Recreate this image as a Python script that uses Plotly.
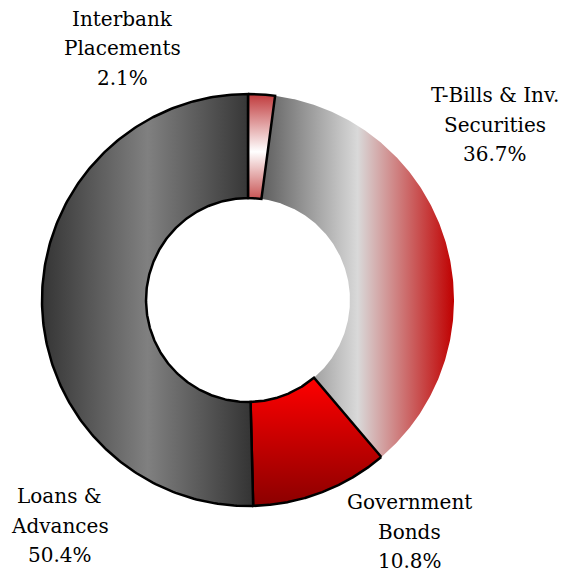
import numpy as np
import plotly.graph_objects as go

# Asset mix (percent of total), clockwise from 12 o'clock
categories = ["Interbank|Placements", "T-Bills & Inv.|Securities",
              "Government|Bonds", "Loans &|Advances"]
shares = [2.1, 36.7, 10.8, 50.4]

# Fill styling per slice: gradient direction and colour stops
gradients = [
    dict(type="vertical", colorscale=[[0, "#c85454"], [0.45, "#ffffff"], [1, "#c0393b"]]),
    dict(type="horizontal", colorscale=[[0, "#5e5e5e"], [0.5, "#d9d9d9"], [1, "#c00000"]]),
    dict(type="vertical", colorscale=[[0, "#8b0000"], [1, "#ff0000"]]),
    dict(type="horizontal", colorscale=[[0, "#353535"], [0.5, "#808080"], [1, "#333333"]]),
]
outlined = [True, False, True, True]
# label block centres (x, y of the middle line) in chart units
label_pos = [(-0.607, 1.223), (1.199, 0.850), (0.786, -1.126), (-0.913, -1.097)]

R_OUT, R_IN = 1.0, 0.495
W, H = 573, 576
cx, cy, rpx = 248, 300, 206
LINE_STEP = 29.5 / rpx
FONT = dict(family="DejaVu Serif", size=20, color="black")

fig = go.Figure()
total = sum(shares)
bounds = np.cumsum([0] + shares) / total
slices = []
for i, share in enumerate(shares):
    a0, a1 = bounds[i] * 2 * np.pi, bounds[i + 1] * 2 * np.pi
    t = np.linspace(a0, a1, 240)
    xo, yo = R_OUT * np.sin(t), R_OUT * np.cos(t)
    xi, yi = R_IN * np.sin(t[::-1]), R_IN * np.cos(t[::-1])
    x = np.concatenate([xo, xi, xo[:1]])
    y = np.concatenate([yo, yi, yo[:1]])
    slices.append((i, x, y))

# draw the unoutlined slice first so neighbouring borders sit on top
order = sorted(range(len(shares)), key=lambda k: outlined[k])
for i in order:
    _, x, y = slices[i]
    fig.add_trace(go.Scatter(
        x=x, y=y, mode="lines", fill="toself",
        fillgradient=gradients[i],
        line=dict(color="black", width=2.5 if outlined[i] else 0),
        hoverinfo="skip", showlegend=False,
    ))

for name, share, (lx, ly) in zip(categories, shares, label_pos):
    lines = name.split("|") + [f"{share:.1f}%"]
    for k, line in enumerate(lines):
        fig.add_annotation(
            x=lx, y=ly + (1 - k) * LINE_STEP, text=line, showarrow=False,
            xanchor="center", yanchor="middle", align="center", font=FONT,
        )

fig.update_xaxes(range=[-cx / rpx, (W - cx) / rpx], visible=False)
fig.update_yaxes(range=[-(H - cy) / rpx, cy / rpx], visible=False)
fig.update_layout(
    width=W, height=H, margin=dict(l=0, r=0, t=0, b=0),
    paper_bgcolor="white", plot_bgcolor="white",
)
fig.write_html("out.html")
